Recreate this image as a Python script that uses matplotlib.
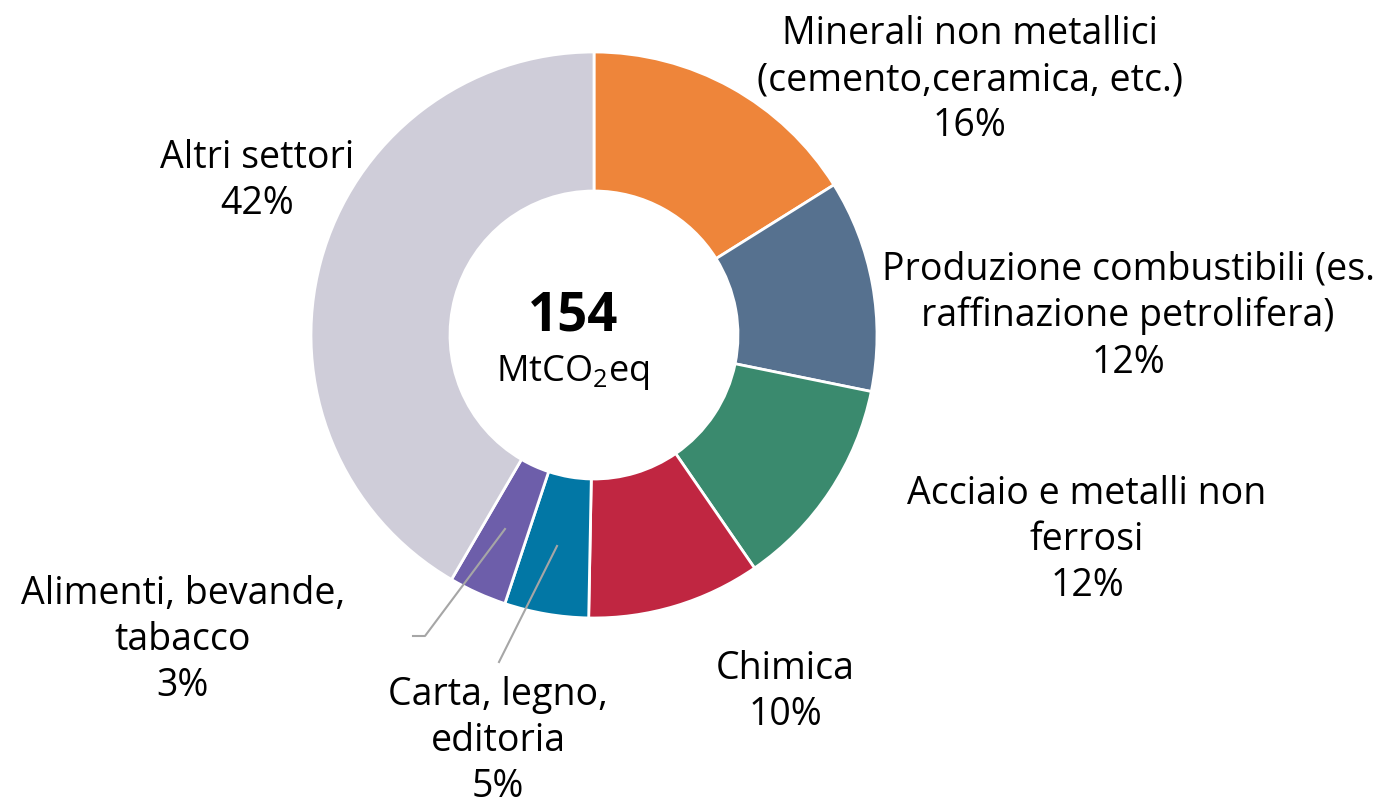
import matplotlib.pyplot as plt

# quote emissioni industria (percentuali)
settori = [
    "Minerali non metallici\n(cemento,ceramica, etc.)",
    "Produzione combustibili (es.\nraffinazione petrolifera)",
    "Acciaio e metalli non\nferrosi",
    "Chimica",
    "Carta, legno,\neditoria",
    "Alimenti, bevande,\ntabacco",
    "Altri settori",
]
valori = [16.1, 12.1, 12.2, 9.9, 4.8, 3.3, 41.6]
etichette_pct = ["16%", "12%", "12%", "10%", "5%", "3%", "42%"]
colori = ["#EE853A", "#56718F", "#3A8A6E", "#C02641", "#0277A5", "#6D5EAA", "#CFCDD9"]
totale = "154"

W, H = 1393, 805
plt.rcParams["font.family"] = ["Open Sans", "DejaVu Sans"]
plt.rcParams["mathtext.fontset"] = "custom"
plt.rcParams["mathtext.rm"] = "Open Sans"

fig = plt.figure(figsize=(W / 100, H / 100), dpi=100)
ax = fig.add_axes([0, 0, 1, 1])

cx, cy, r = 594, H - 335, 283
ax.pie(valori, colors=colori, startangle=90, counterclock=False,
       center=(cx, cy), radius=r, frame=True,
       wedgeprops=dict(width=139, edgecolor="white", linewidth=2))
ax.set_xlim(0, W)
ax.set_ylim(0, H)
ax.set_aspect("equal")
ax.axis("off")

# posizioni etichette (pixel, y dall'alto)
pos = [(970, 80), (1128, 316), (1087, 540), (785, 692), (498, 741), (183, 640), (257, 181)]
fs = 27
for nome, pct, (x, y) in zip(settori, etichette_pct, pos):
    ax.text(x, H - y, nome + "\n" + pct, ha="center", va="center",
            fontsize=fs, linespacing=1.28, color="black")

# linee di richiamo
ax.plot([505, 425, 413], [H - 529, H - 636, H - 636], color="#A6A6A6", lw=1.5)
ax.plot([557, 499], [H - 546, H - 662], color="#A6A6A6", lw=1.5)

ax.text(573, H - 316, totale, ha="center", va="center", fontsize=38, fontweight="bold")
ax.text(573, H - 372, r"MtCO$_\mathrm{2}$eq", ha="center", va="center", fontsize=26)

fig.savefig("out.png", dpi=100)
